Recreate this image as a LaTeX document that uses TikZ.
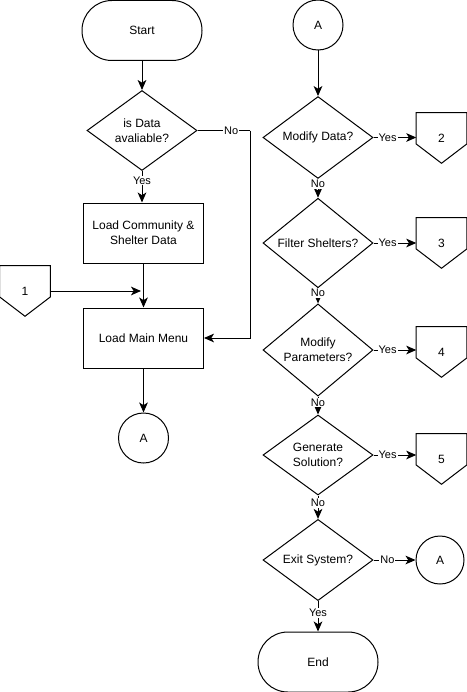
\documentclass[tikz,border=0pt]{standalone}
\usepackage{fontspec}
\setmainfont{Liberation Sans}
\usetikzlibrary{shapes.geometric,arrows.meta}
\newcommand\offpgshape[1]{\draw[line width=0.75pt] (#1.north west) -- (#1.north east) -- ([yshift=-4.5pt]#1.east) -- (#1.south) -- ([yshift=-4.5pt]#1.west) -- cycle;}
\begin{document}
\begin{tikzpicture}[x=0.75pt,y=-0.75pt,
  every node/.style={font=\fontsize{9}{11}\selectfont},
  term/.style={draw, rectangle, rounded corners=22.4pt, minimum width=90pt, minimum height=45pt, line width=0.75pt},
  proc/.style={draw, rectangle, minimum width=90pt, minimum height=45pt, align=center, line width=0.75pt},
  dec/.style={draw, diamond, minimum width=82.5pt, minimum height=60pt, inner sep=0pt, align=center, line width=0.75pt},
  conn/.style={draw, circle, minimum size=37.5pt, inner sep=0pt, line width=0.75pt},
  pg/.style={rectangle, minimum width=37.5pt, minimum height=37.5pt, inner sep=0pt},
  lbl/.style={fill=white, inner sep=0.8pt, font=\fontsize{8.25}{10}\selectfont},
  arr/.style={-{Stealth[length=7.5pt,width=6.5pt,inset=2pt]}, line width=0.75pt},
  ln/.style={line width=0.75pt}
]
\useasboundingbox (0,0) rectangle (467,692);

% left column
\node[term] (start) at (142,30.5) {Start};
\node[dec] (d0) at (142,130.5) {is Data\\avaliable?};
\node[proc] (b1) at (143.5,233) {Load Community \&\\Shelter Data};
\node[proc] (b2) at (143.5,338) {Load Main Menu};
\node[conn] (a1) at (143.5,438) {A};
\node[pg] (p1) at (25,291) {1};
\offpgshape{p1}
\coordinate (nc1) at (250,130.5);
\coordinate (nc2) at (250,338);
\coordinate (j1) at (141,291);

% right column
\node[conn] (aR) at (318,25) {A};
\node[dec] (d1) at (318,137.5) {Modify Data?};
\node[dec] (d2) at (318,243) {Filter Shelters?};
\node[dec] (d3) at (318,350) {Modify\\Parameters?};
\node[dec] (d4) at (318,455) {Generate\\Solution?};
\node[dec] (d5) at (318,560) {Exit System?};
\node[term] (end) at (318,662) {End};
\node[pg] (p2) at (441.5,138) {2};
\node[pg] (p3) at (441.5,243) {3};
\node[pg] (p4) at (441.5,352) {4};
\node[pg] (p5) at (441.5,459) {5};
\offpgshape{p2}
\offpgshape{p3}
\offpgshape{p4}
\offpgshape{p5}
\node[conn, minimum size=36pt] (a2) at (440,560) {A};

% left connectors
\draw[arr] (start) -- (start.south |- d0.north);
\draw[arr] (d0.south) -- (d0.south |- b1.north) node[lbl, pos=0.3] {Yes};
\draw[arr] (b1) -- (b2);
\draw[arr] (b2) -- (a1);
\draw[arr] (p1.east |- j1) -- (j1);
\draw[ln] (d0.east) -- (nc1) node[lbl, pos=0.64] {No};
\draw[arr] (nc1) -- (nc2) -- (b2.east);

% right connectors
\draw[arr] (aR) -- (d1);
\draw[arr] (d1) -- (d2) node[lbl, pos=0.27] {No};
\draw[arr] (d2) -- (d3) node[lbl, pos=0.32] {No};
\draw[arr] (d3) -- (d4) node[lbl, pos=0.33] {No};
\draw[arr] (d4) -- (d5) node[lbl, pos=0.33] {No};
\draw[arr] (d5) -- (end) node[lbl, pos=0.38] {Yes};
\draw[arr] (d1.east) -- (d1.east -| p2.west) node[lbl, pos=0.33] {Yes};
\draw[arr] (d2.east) -- (d2.east -| p3.west) node[lbl, pos=0.33] {Yes};
\draw[arr] (d3.east) -- (d3.east -| p4.west) node[lbl, pos=0.33] {Yes};
\draw[arr] (d4.east) -- (d4.east -| p5.west) node[lbl, pos=0.33] {Yes};
\draw[arr] (d5.east) -- (a2.west) node[lbl, pos=0.33] {No};
\end{tikzpicture}
\end{document}
